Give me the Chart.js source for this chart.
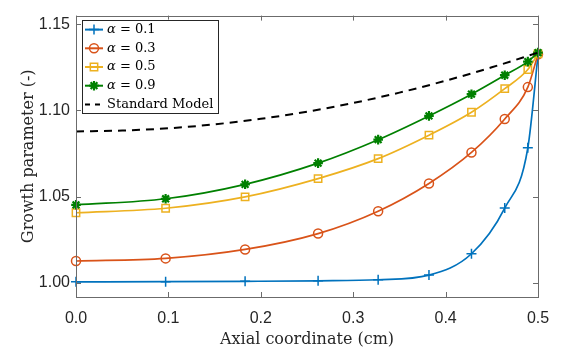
<!DOCTYPE html>
<html>
<head>
<meta charset="utf-8">
<script src="https://cdn.jsdelivr.net/npm/chart.js@4.4.1/dist/chart.umd.min.js"></script>
<style>
  html, body { margin: 0; padding: 0; background: #fff; }
  #wrap { width: 567px; height: 354px; }
</style>
</head>
<body>
<div id="wrap"><canvas id="myChart" width="567" height="354"></canvas></div>
<script>
// axial positions of the markers (cm)
var xPos = [0, 0.097, 0.183, 0.262, 0.327, 0.382, 0.428, 0.464, 0.489, 0.5];
var alpha01 = [1.0005, 1.0006, 1.0008, 1.0011, 1.0017, 1.0044, 1.0168, 1.0433, 1.0783, 1.1320];
var alpha03 = [1.0126, 1.0141, 1.0193, 1.0285, 1.0415, 1.0576, 1.0756, 1.0950, 1.1135, 1.1326];
var alpha05 = [1.0406, 1.0432, 1.0498, 1.0604, 1.0720, 1.0856, 1.0989, 1.1126, 1.1237, 1.1328];
var alpha09 = [1.0452, 1.0487, 1.0571, 1.0694, 1.0830, 1.0968, 1.1094, 1.1204, 1.1283, 1.1335];
// standard model (dashed)
var stdX = [0, 0.05, 0.1, 0.15, 0.2, 0.25, 0.3, 0.35, 0.4, 0.45, 0.5];
var stdY = [1.0878, 1.0883, 1.0896, 1.0919, 1.0951, 1.0992, 1.1043, 1.1103, 1.1172, 1.1250, 1.1335];
var xTicks = [0, 0.1, 0.2, 0.3, 0.4, 0.5];
var yTicks = [1.00, 1.05, 1.10, 1.15];
var seriesNames = ["\u03b1 = 0.1", "\u03b1 = 0.3", "\u03b1 = 0.5", "\u03b1 = 0.9", "Standard Model"];

var colors = ["#0072BD", "#D95319", "#EDB120", "#008000", "#000000"];
var styles = ["cross", "circle", "rect", "star", false];

function pts(xs, ys) {
  return xs.map(function (x, i) { return { x: x, y: ys[i] }; });
}

function series(i, data, radius) {
  return {
    label: seriesNames[i],
    data: data,
    borderColor: colors[i],
    backgroundColor: "transparent",
    borderWidth: 1.7,
    pointStyle: styles[i],
    pointRadius: radius,
    pointBorderColor: colors[i],
    pointBackgroundColor: "transparent",
    pointBorderWidth: i == 3 ? 2.2 : 1.5,
    cubicInterpolationMode: "monotone",
    clip: false,
    order: 5 - i,
  };
}

var datasets = [
  series(0, pts(xPos, alpha01), 5),
  series(1, pts(xPos, alpha03), 4.5),
  series(2, pts(xPos, alpha05), 5.2),
  series(3, pts(xPos, alpha09), 4.8),
  {
    label: seriesNames[4],
    data: pts(stdX, stdY),
    borderColor: "#000",
    borderWidth: 2,
    borderDash: [8, 6],
    pointRadius: 0,
    cubicInterpolationMode: "monotone",
    clip: false,
    order: 0,
  },
];

function drawMarker(ctx, style, x, y, r, color, lw) {
  ctx.save();
  ctx.strokeStyle = color;
  ctx.lineWidth = lw;
  ctx.beginPath();
  if (style == "cross") {
    ctx.moveTo(x - r, y); ctx.lineTo(x + r, y);
    ctx.moveTo(x, y - r); ctx.lineTo(x, y + r);
  } else if (style == "circle") {
    ctx.arc(x, y, r, 0, Math.PI * 2);
  } else if (style == "rect") {
    var s = r * Math.SQRT1_2;
    ctx.rect(x - s, y - s, 2 * s, 2 * s);
  } else if (style == "star") {
    var d = r * Math.SQRT1_2;
    ctx.moveTo(x - r, y); ctx.lineTo(x + r, y);
    ctx.moveTo(x, y - r); ctx.lineTo(x, y + r);
    ctx.moveTo(x - d, y - d); ctx.lineTo(x + d, y + d);
    ctx.moveTo(x - d, y + d); ctx.lineTo(x + d, y - d);
  }
  ctx.stroke();
  ctx.restore();
}

// MATLAB-like box with inward ticks
var boxPlugin = {
  id: "box",
  afterDatasetsDraw: function (chart) {
    var ctx = chart.ctx, a = chart.chartArea;
    var xs = chart.scales.x, ys = chart.scales.y;
    var tl = 5;
    ctx.save();
    ctx.strokeStyle = "#6b6b6b";
    ctx.lineWidth = 1;
    ctx.beginPath();
    xTicks.forEach(function (v) {
      var px = Math.round(xs.getPixelForValue(v)) + 0.5;
      ctx.moveTo(px, a.bottom); ctx.lineTo(px, a.bottom - tl);
      ctx.moveTo(px, a.top); ctx.lineTo(px, a.top + tl);
    });
    yTicks.forEach(function (v) {
      var py = Math.round(ys.getPixelForValue(v)) + 0.5;
      ctx.moveTo(a.left, py); ctx.lineTo(a.left + tl, py);
      ctx.moveTo(a.right, py); ctx.lineTo(a.right - tl, py);
    });
    ctx.stroke();
    ctx.strokeRect(Math.round(a.left) + 0.5, Math.round(a.top) + 0.5,
      Math.round(a.right - a.left), Math.round(a.bottom - a.top));
    ctx.restore();
  },
  afterDraw: function (chart) {
    // legend box in the upper left corner
    var ctx = chart.ctx, a = chart.chartArea;
    var bx = a.left + 6, by = a.top + 4, bw = 136, bh = 93;
    ctx.save();
    ctx.fillStyle = "#fff";
    ctx.fillRect(bx, by, bw, bh);
    ctx.strokeStyle = "#262626";
    ctx.lineWidth = 1;
    ctx.strokeRect(Math.round(bx) + 0.5, Math.round(by) + 0.5, bw, bh);
    var rowH = 18.7;
    for (var i = 0; i < datasets.length; i++) {
      var cy = by + 10 + i * rowH;
      var x0 = bx + 3, x1 = bx + 21;
      ctx.strokeStyle = colors[i];
      ctx.lineWidth = 2;
      ctx.beginPath();
      if (i == 4) ctx.setLineDash([5, 5]);
      ctx.moveTo(x0, cy); ctx.lineTo(x1, cy);
      ctx.stroke();
      ctx.setLineDash([]);
      if (styles[i]) drawMarker(ctx, styles[i], (x0 + x1) / 2, cy, datasets[i].pointRadius, colors[i], datasets[i].pointBorderWidth);
      ctx.fillStyle = "#000";
      ctx.textBaseline = "middle";
      var tx = bx + 25;
      if (i < 4) {
        ctx.font = "italic 13px 'DejaVu Serif'";
        ctx.fillText("\u03b1", tx, cy);
        var w = ctx.measureText("\u03b1").width;
        ctx.font = "13px 'DejaVu Serif'";
        ctx.fillText(seriesNames[i].slice(1), tx + w, cy);
      } else {
        ctx.font = "13px 'DejaVu Serif'";
        ctx.fillText(seriesNames[i], tx, cy);
      }
    }
    ctx.restore();
  },
};

new Chart(document.getElementById("myChart"), {
  type: "line",
  data: { datasets: datasets },
  plugins: [boxPlugin],
  options: {
    responsive: false,
    animation: false,
    layout: { padding: { left: 0, right: 29, top: 3, bottom: 0 } },
    plugins: {
      legend: { display: false },
      tooltip: { enabled: false },
    },
    scales: {
      x: {
        type: "linear",
        min: 0,
        max: 0.5,
        afterFit: function (s) { s.height = 57; },
        afterBuildTicks: function (s) { s.ticks = xTicks.map(function (v) { return { value: v }; }); },
        grid: { display: true, drawOnChartArea: false, drawTicks: false },
        border: { display: false },
        ticks: {
          padding: 12,
          maxRotation: 0,
          color: "#262626",
          font: { family: "'Liberation Sans', Arial, sans-serif", size: 16 },
          callback: function (v) { return v.toFixed(1); },
        },
        title: {
          display: true,
          text: "Axial coordinate (cm)",
          color: "#262626",
          font: { family: "'DejaVu Serif', serif", size: 16 },
          padding: { top: 0, bottom: 5 },
        },
      },
      y: {
        min: 0.9917,
        max: 1.155,
        afterFit: function (s) { s.width = 76; },
        afterBuildTicks: function (s) { s.ticks = yTicks.map(function (v) { return { value: v }; }); },
        grid: { display: true, drawOnChartArea: false, drawTicks: false },
        border: { display: false },
        ticks: {
          padding: 6,
          color: "#262626",
          font: { family: "'Liberation Sans', Arial, sans-serif", size: 16 },
          callback: function (v) { return v.toFixed(2); },
        },
        title: {
          display: true,
          text: "Growth parameter (-)",
          color: "#262626",
          font: { family: "'DejaVu Serif', serif", size: 16 },
          padding: { top: 19, bottom: 0 },
        },
      },
    },
  },
});
</script>
</body>
</html>
